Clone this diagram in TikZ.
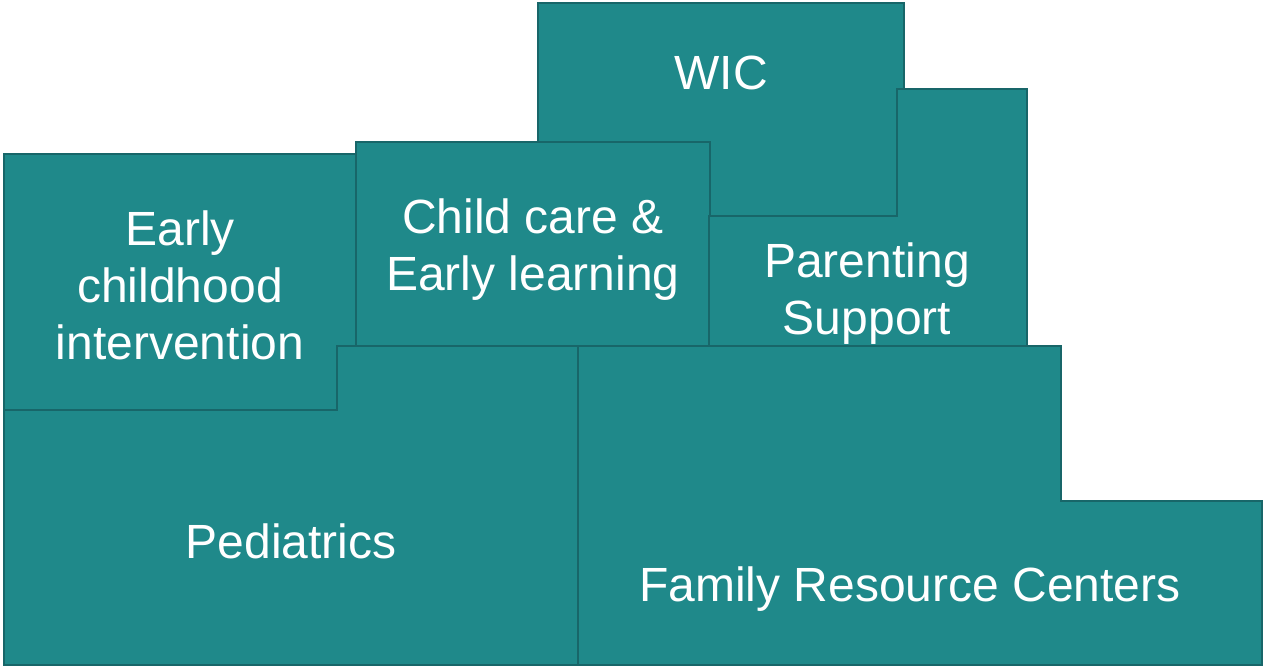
\documentclass[tikz,border=0pt]{standalone}
\usepackage{fontspec}
\setmainfont{Liberation Sans}
\definecolor{tealfill}{RGB}{31,137,138}
\definecolor{tealline}{RGB}{24,102,105}
\tikzset{
  block/.style={fill=tealfill, draw=tealline, line width=2.4pt, line join=miter},
  label/.style={text=white, align=center, font=\fontsize{48}{57}\selectfont, inner sep=0pt}
}
\begin{document}
\begin{tikzpicture}[x=1pt,y=-1pt]
\useasboundingbox (0,0) rectangle (1263,667);
% Pediatrics
\draw[block] (4,410) -- (337,410) -- (337,346) -- (578,346) -- (578,665) -- (4,665) -- cycle;
% Family Resource Centers
\draw[block] (578,346) -- (1061,346) -- (1061,501) -- (1262,501) -- (1262,665) -- (578,665) -- cycle;
% Early childhood intervention
\draw[block] (4,154) -- (356,154) -- (356,346) -- (337,346) -- (337,410) -- (4,410) -- cycle;
% WIC
\draw[block] (538,3) rectangle (904,216);
% Child care
\draw[block] (356,142) rectangle (710,346);
% Parenting support
\draw[block] (897,89) -- (1027,89) -- (1027,346) -- (709,346) -- (709,216) -- (897,216) -- cycle;

\node[label] (wic) at (721,73) {WIC};
\node[label] (eci) at (180,285) {Early\\childhood\\intervention};
\node[label] (cc) at (533,250) {Child care \&\\Early learning};
\node[label] (ps) at (867,294) {Parenting\\Support};
\node[label] (ped) at (291,541) {Pediatrics};
\node[label] (frc) at (910,589) {Family Resource Centers};
\end{tikzpicture}
\end{document}
